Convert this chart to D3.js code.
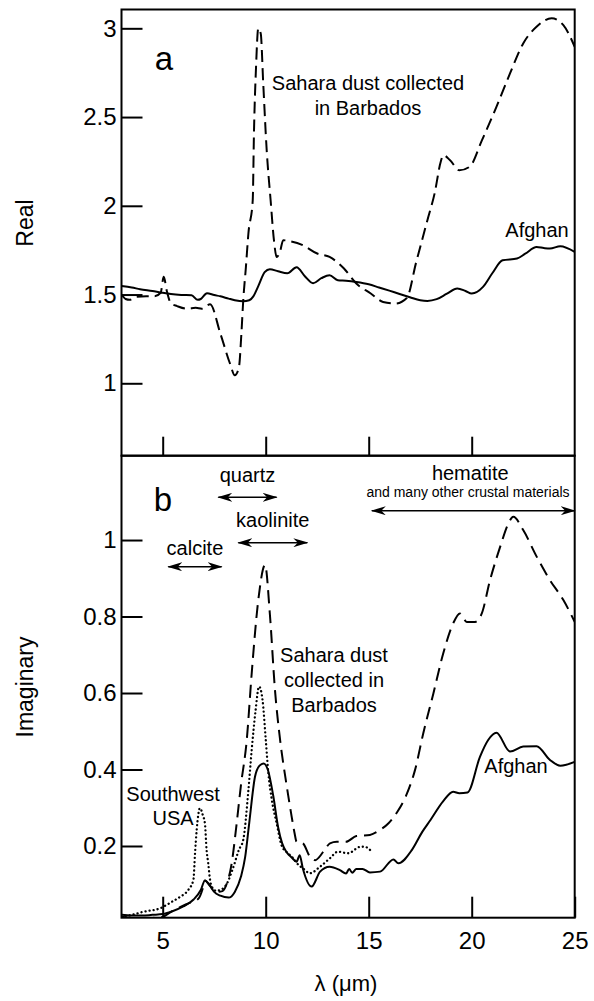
<!DOCTYPE html>
<html>
<head>
<meta charset="utf-8">
<script src="https://cdn.jsdelivr.net/npm/d3@7"></script>
<style>
  html, body { margin: 0; padding: 0; background: #fff; }
  svg { display: block; }
  text { font-family: "Liberation Sans", Arial, Helvetica, sans-serif; fill: #000; }
</style>
</head>
<body>
<svg id="chart" width="594" height="1001"></svg>
<script>
// Refractive index of mineral dust vs wavelength (µm): [λ, value]

// (a) real part
const realAfghan = [
  [3.0,1.548],[3.5,1.54],[3.9,1.53],[4.5,1.52],[4.9,1.512],[5.4,1.503],[5.9,1.498],[6.4,1.496],
  [6.7,1.47],[6.85,1.475],[7.15,1.507],[7.5,1.497],[7.8,1.49],[8.2,1.477],[8.5,1.468],[8.9,1.462],
  [9.2,1.468],[9.4,1.49],[9.65,1.55],[9.95,1.626],[10.2,1.643],[10.6,1.631],[11.05,1.62],[11.5,1.654],
  [11.9,1.603],[12.3,1.564],[12.7,1.592],[13.1,1.609],[13.5,1.581],[13.9,1.578],[14.4,1.571],[15.0,1.558],
  [15.5,1.54],[16.0,1.522],[16.5,1.503],[17.0,1.485],[17.5,1.468],[17.85,1.464],[18.3,1.474],[18.8,1.505],
  [19.3,1.534],[19.7,1.52],[20.0,1.506],[20.55,1.543],[21.0,1.62],[21.5,1.693],[22.2,1.703],[22.6,1.73],
  [23.15,1.768],[23.5,1.762],[23.8,1.759],[24.3,1.772],[25.0,1.74]
];
const realSahara = [
  [3.0,1.5],[3.2,1.475],[3.4,1.47],[3.7,1.487],[4.2,1.49],[4.6,1.49],[4.9,1.51],[5.05,1.6],
  [5.2,1.52],[5.4,1.45],[5.7,1.435],[6.2,1.42],[6.6,1.425],[6.9,1.42],[7.3,1.445],[7.8,1.28],
  [8.27,1.11],[8.5,1.045],[8.7,1.09],[8.82,1.28],[8.91,1.468],[9.04,1.656],[9.16,1.844],[9.37,2.03],
  [9.43,2.41],[9.53,2.78],[9.64,3.0],[9.76,2.97],[9.88,2.69],[10.05,2.31],[10.24,2.03],[10.4,1.806],
  [10.53,1.712],[10.69,1.74],[10.85,1.806],[11.2,1.8],[11.8,1.778],[12.5,1.731],[13.1,1.712],[13.8,1.647],
  [14.4,1.562],[15.1,1.506],[15.7,1.458],[16.3,1.449],[16.85,1.48],[17.3,1.68],[17.85,1.919],[18.2,2.07],
  [18.5,2.25],[18.62,2.285],[18.95,2.257],[19.4,2.2],[19.9,2.22],[20.5,2.37],[21.2,2.557],[21.86,2.746],
  [22.5,2.915],[23.16,3.01],[23.88,3.057],[24.45,3.018],[25.0,2.896]
];

// (b) imaginary part
const imagAfghan = [
  [3.0,0.02],[3.5,0.018],[4.0,0.018],[4.5,0.02],[5.0,0.022],[5.5,0.03],[6.0,0.042],[6.5,0.06],
  [6.85,0.085],[7.05,0.11],[7.25,0.1],[7.5,0.08],[7.8,0.07],[8.2,0.065],[8.5,0.08],[8.8,0.12],
  [9.0,0.17],[9.2,0.26],[9.48,0.381],[9.7,0.41],[9.9,0.416],[10.1,0.4],[10.37,0.33],[10.6,0.25],
  [10.8,0.207],[11.0,0.185],[11.26,0.17],[11.5,0.159],[11.65,0.176],[11.8,0.142],[12.23,0.094],[12.64,0.133],
  [13.1,0.146],[13.6,0.137],[13.9,0.128],[14.05,0.14],[14.2,0.13],[14.4,0.14],[14.7,0.14],[15.06,0.131],
  [15.55,0.133],[16.2,0.165],[16.44,0.155],[17.1,0.19],[17.6,0.237],[18.0,0.268],[18.6,0.316],[19.1,0.342],
  [19.4,0.338],[19.8,0.34],[20.4,0.433],[20.8,0.477],[21.2,0.496],[21.86,0.447],[22.5,0.46],[23.15,0.461],
  [23.8,0.425],[24.3,0.41],[25.0,0.42]
];
const imagSahara = [
  [3.0,0.015],[3.5,0.012],[4.0,0.01],[4.5,0.012],[5.0,0.015],[5.4,0.028],[5.84,0.04],[6.24,0.05],
  [6.73,0.062],[6.95,0.09],[7.05,0.11],[7.3,0.095],[7.6,0.08],[7.9,0.082],[8.1,0.1],[8.35,0.155],
  [8.55,0.24],[8.8,0.36],[9.08,0.477],[9.32,0.651],[9.64,0.843],[9.97,0.935],[10.2,0.808],[10.45,0.608],
  [10.7,0.477],[11.0,0.364],[11.26,0.277],[11.4,0.234],[11.5,0.211],[11.8,0.207],[12.15,0.172],[12.4,0.163],
  [12.8,0.185],[13.12,0.207],[13.45,0.211],[13.9,0.211],[14.4,0.226],[15.06,0.229],[15.55,0.242],[15.95,0.259],
  [16.4,0.29],[16.8,0.33],[17.25,0.399],[17.65,0.495],[18.14,0.599],[18.62,0.704],[19.1,0.782],[19.43,0.808],
  [19.76,0.786],[20.17,0.786],[20.49,0.808],[20.89,0.895],[21.38,0.982],[21.78,1.043],[22.02,1.061],[22.5,1.026],
  [23.16,0.956],[23.8,0.895],[24.45,0.843],[25.0,0.786]
];
const imagSouthwest = [
  [3.0,0.015],[3.5,0.02],[4.06,0.028],[4.87,0.037],[5.44,0.054],[5.84,0.067],[6.24,0.085],[6.49,0.111],
  [6.57,0.181],[6.65,0.242],[6.81,0.299],[6.95,0.28],[7.05,0.259],[7.13,0.19],[7.21,0.155],[7.3,0.111],
  [7.38,0.094],[7.6,0.083],[7.9,0.088],[8.1,0.1],[8.4,0.14],[8.7,0.19],[8.91,0.216],[9.16,0.346],
  [9.32,0.451],[9.5,0.55],[9.68,0.617],[9.85,0.58],[10.0,0.48],[10.13,0.39],[10.3,0.32],[10.53,0.26],
  [10.78,0.2],[11.0,0.185],[11.3,0.17],[11.6,0.15],[11.8,0.142],[12.15,0.129],[12.64,0.146],[13.12,0.168],
  [13.5,0.185],[14.0,0.181],[14.6,0.198],[14.8,0.198],[15.15,0.185]
];

// Absorption band ranges (µm)
const bandNames = ["quartz", "kaolinite", "calcite", "hematite"];
const bandRanges = [[7.7, 10.53], [8.67, 12.02], [5.27, 7.86], [15.15, 25]];

// Axis ticks
const xTicks = [5, 10, 15, 20, 25];
const realTicks = [1, 1.5, 2, 2.5, 3];
const imagTicks = [0.2, 0.4, 0.6, 0.8, 1];

// ---------------------------------------------------------------
const svg = d3.select("#chart");
const left = 121.5, right = 574.7;
const topA = 9.5, mid = 455.7, botB = 917.7;

const x = d3.scaleLinear().domain([3, 25]).range([left, right]);
const yA = d3.scaleLinear().domain([0.592, 3.106]).range([mid, topA]);
const yB = d3.scaleLinear().domain([0.0125, 1.2205]).range([botB, mid]);

const tickFont = "24px";

// clip regions
const defs = svg.append("defs");
defs.append("clipPath").attr("id", "clipA").append("rect")
  .attr("x", left).attr("y", topA).attr("width", right - left).attr("height", mid - topA);
defs.append("clipPath").attr("id", "clipB").append("rect")
  .attr("x", left).attr("y", mid).attr("width", right - left).attr("height", botB - mid);

// arrowhead marker (slim, notched)
defs.append("marker")
  .attr("id", "head")
  .attr("viewBox", "0 0 15 9")
  .attr("refX", 14).attr("refY", 4.5)
  .attr("markerWidth", 15).attr("markerHeight", 9)
  .attr("markerUnits", "userSpaceOnUse")
  .attr("orient", "auto-start-reverse")
  .append("path").attr("d", "M0,0 L15,4.5 L0,9 L4.5,4.5 Z").attr("fill", "#000");

// ---------- axes ----------
function styleAxis(g) {
  g.select(".domain").remove();
  g.selectAll(".tick line").attr("stroke", "#000").attr("stroke-width", 2);
  g.selectAll(".tick text").style("font-size", tickFont).attr("fill", "#000");
}

// panel (a) y axis
svg.append("g").attr("transform", `translate(${left},0)`)
  .call(d3.axisLeft(yA).tickValues(realTicks).tickFormat(d3.format("")).tickSizeInner(-21).tickSizeOuter(0).tickPadding(5))
  .call(styleAxis);
// panel (a) bottom ticks (no labels)
svg.append("g").attr("transform", `translate(0,${mid})`)
  .call(d3.axisBottom(x).tickValues([5, 10, 15, 20]).tickFormat("").tickSizeInner(-19).tickSizeOuter(0))
  .call(styleAxis);

// panel (b) y axis
svg.append("g").attr("transform", `translate(${left},0)`)
  .call(d3.axisLeft(yB).tickValues(imagTicks).tickFormat(d3.format("")).tickSizeInner(-21).tickSizeOuter(0).tickPadding(5))
  .call(styleAxis);
// panel (b) x axis
svg.append("g").attr("transform", `translate(0,${botB})`)
  .call(d3.axisBottom(x).tickValues(xTicks).tickFormat(d3.format("")).tickSizeInner(-21).tickSizeOuter(0).tickPadding(14))
  .call(styleAxis);

// frames
svg.append("rect").attr("x", left).attr("y", topA).attr("width", right - left).attr("height", mid - topA)
  .attr("fill", "none").attr("stroke", "#000").attr("stroke-width", 2);
svg.append("rect").attr("x", left).attr("y", mid).attr("width", right - left).attr("height", botB - mid)
  .attr("fill", "none").attr("stroke", "#000").attr("stroke-width", 2);

// ---------- curves ----------
const lineA = d3.line().x(d => x(d[0])).y(d => yA(d[1])).curve(d3.curveMonotoneX);
const lineB = d3.line().x(d => x(d[0])).y(d => yB(d[1])).curve(d3.curveMonotoneX);

const gA = svg.append("g").attr("clip-path", "url(#clipA)");
gA.append("path").datum(realAfghan).attr("d", lineA)
  .attr("fill", "none").attr("stroke", "#000").attr("stroke-width", 2);
gA.append("path").datum(realSahara).attr("d", lineA)
  .attr("fill", "none").attr("stroke", "#000").attr("stroke-width", 2).attr("stroke-dasharray", "12,6");

const gB = svg.append("g").attr("clip-path", "url(#clipB)");
gB.append("path").datum(imagSouthwest).attr("d", lineB)
  .attr("fill", "none").attr("stroke", "#000").attr("stroke-width", 2.3)
  .attr("stroke-linecap", "round").attr("stroke-dasharray", "0.1,4");
gB.append("path").datum(imagAfghan).attr("d", lineB)
  .attr("fill", "none").attr("stroke", "#000").attr("stroke-width", 2);
gB.append("path").datum(imagSahara).attr("d", lineB)
  .attr("fill", "none").attr("stroke", "#000").attr("stroke-width", 2).attr("stroke-dasharray", "13,7");

// ---------- band arrows ----------
const arrowRows = [497.3, 542.7, 566.7, 510.7];      // arrow line heights
const nameRows = [481.5, 527, 555, 480];            // label baselines
bandNames.forEach((name, i) => {
  const [a, b] = bandRanges[i];
  svg.append("line")
    .attr("x1", x(a)).attr("x2", x(b)).attr("y1", arrowRows[i]).attr("y2", arrowRows[i])
    .attr("stroke", "#000").attr("stroke-width", 1.6)
    .attr("marker-start", "url(#head)").attr("marker-end", "url(#head)");
  svg.append("text")
    .attr("x", (x(a) + x(b)) / 2 + (i === 3 ? -3 : 0)).attr("y", nameRows[i])
    .attr("text-anchor", "middle").style("font-size", "20px").text(name);
});
svg.append("text").attr("x", 468).attr("y", 497).attr("text-anchor", "middle")
  .style("font-size", "14px").text("and many other crustal materials");

// ---------- labels ----------
function label(txt, px, py, size, anchor) {
  return svg.append("text").attr("x", px).attr("y", py)
    .attr("text-anchor", anchor || "start").style("font-size", size).text(txt);
}
label("a", 164, 70, "33px", "middle");
label("b", 163, 511, "33px", "middle");

label("Sahara dust collected", 368, 90, "20px", "middle");
label("in Barbados", 368, 115, "20px", "middle");
label("Afghan", 537, 237, "20px", "middle");

label("Sahara dust", 334, 662, "20px", "middle");
label("collected in", 334, 687, "20px", "middle");
label("Barbados", 334, 712, "20px", "middle");
label("Afghan", 516, 773, "20px", "middle");
label("Southwest", 173, 801, "20px", "middle");
label("USA", 173, 825, "20px", "middle");

// axis titles
svg.append("text").attr("transform", "translate(33,223) rotate(-90)")
  .attr("text-anchor", "middle").style("font-size", "23px").text("Real");
svg.append("text").attr("transform", "translate(33,687) rotate(-90)")
  .attr("text-anchor", "middle").style("font-size", "23px").text("Imaginary");
svg.append("text").attr("x", 346).attr("y", 991)
  .attr("text-anchor", "middle").style("font-size", "22px").text("λ (μm)");
</script>
</body>
</html>
